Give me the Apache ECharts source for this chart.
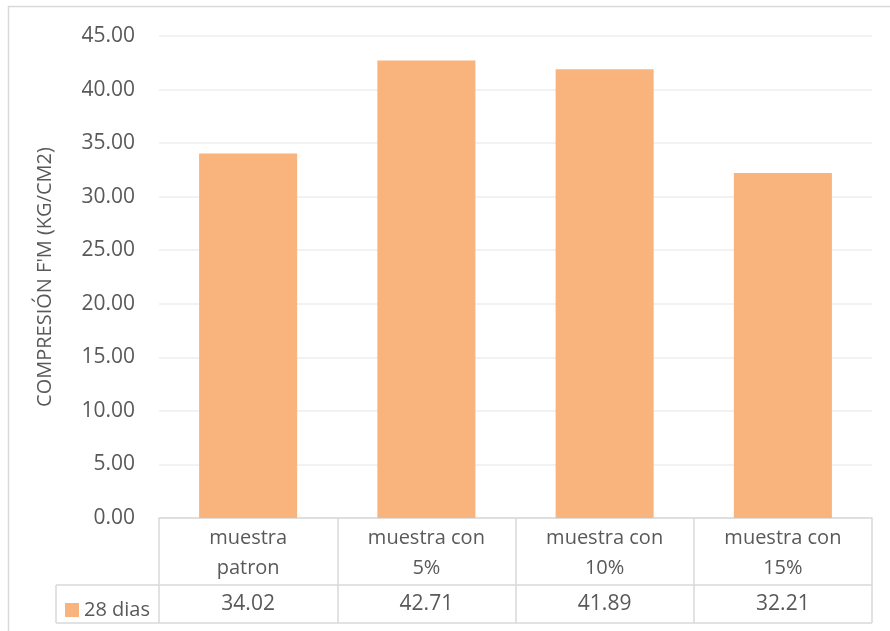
<!DOCTYPE html>
<html><head><meta charset="utf-8">
<script src="https://cdn.jsdelivr.net/npm/echarts@6/dist/echarts.min.js"></script>
<style>html,body{margin:0;padding:0;background:#fff}#c{width:890px;height:631px}</style>
</head><body><div id="c"></div>
<script>
const categories = ["muestra\npatron", "muestra con\n5%", "muestra con\n10%", "muestra con\n15%"];
const seriesName = "28 dias";
const values = [34.02, 42.71, 41.89, 32.21];
const yTicks = {min: 0, max: 45, interval: 5};
const yTitle = "COMPRESIÓN F'M (KG/CM2)";

const FONT = "Open Sans";
const TXT = "#595959";
const LINE = "#d9d9d9";
const chart = echarts.init(document.getElementById('c'), null, {renderer: 'canvas'});
chart.setOption({
  animation: false,
  textStyle: {fontFamily: FONT},
  grid: {left: 159, right: 18, top: 36, bottom: 113},
  legend: {
    data: [seriesName], left: 60, top: 595, icon: 'rect', itemWidth: 14, itemHeight: 14, itemGap: 6,
    textStyle: {fontFamily: FONT, fontSize: 20, color: TXT}
  },
  xAxis: [{
    type: 'category', data: categories,
    axisLine: {lineStyle: {color: LINE, width: 1.5}},
    axisTick: {show: true, length: 105, lineStyle: {color: LINE, width: 1.5}},
    axisLabel: {fontFamily: FONT, fontSize: 20, color: TXT, lineHeight: 30, margin: 5}
  }, {
    type: 'category', data: values.map(v => v.toFixed(2)), position: 'bottom', offset: 67,
    axisLine: {show: false}, axisTick: {show: false},
    axisLabel: {fontFamily: FONT, fontSize: 21, color: TXT, margin: 9}
  }],
  yAxis: {
    type: 'value', min: yTicks.min, max: yTicks.max, interval: yTicks.interval,
    name: yTitle, nameLocation: 'middle', nameGap: 104, nameRotate: 90,
    nameTextStyle: {fontFamily: FONT, fontSize: 20, color: TXT},
    axisLine: {show: false}, axisTick: {show: false},
    axisLabel: {fontFamily: FONT, fontSize: 21, color: TXT, margin: 24, formatter: v => v.toFixed(2)},
    splitLine: {lineStyle: {color: '#eeeeee', width: 1.5}}
  },
  series: [{
    name: seriesName, type: 'bar', data: values, barWidth: '55%',
    itemStyle: {color: '#F8B47C'}
  }],
  graphic: [
    {type: 'rect', shape: {x: 8.5, y: 6.5, width: 1000, height: 1000}, style: {fill: 'none', stroke: LINE, lineWidth: 1.5}, silent: true},
    {type: 'line', shape: {x1: 56, y1: 585, x2: 872, y2: 585}, style: {stroke: LINE, lineWidth: 1.5}, silent: true},
    {type: 'line', shape: {x1: 56, y1: 623, x2: 872, y2: 623}, style: {stroke: LINE, lineWidth: 1.5}, silent: true},
    {type: 'line', shape: {x1: 56, y1: 585, x2: 56, y2: 623}, style: {stroke: LINE, lineWidth: 1.5}, silent: true}
  ]
});
</script></body></html>
